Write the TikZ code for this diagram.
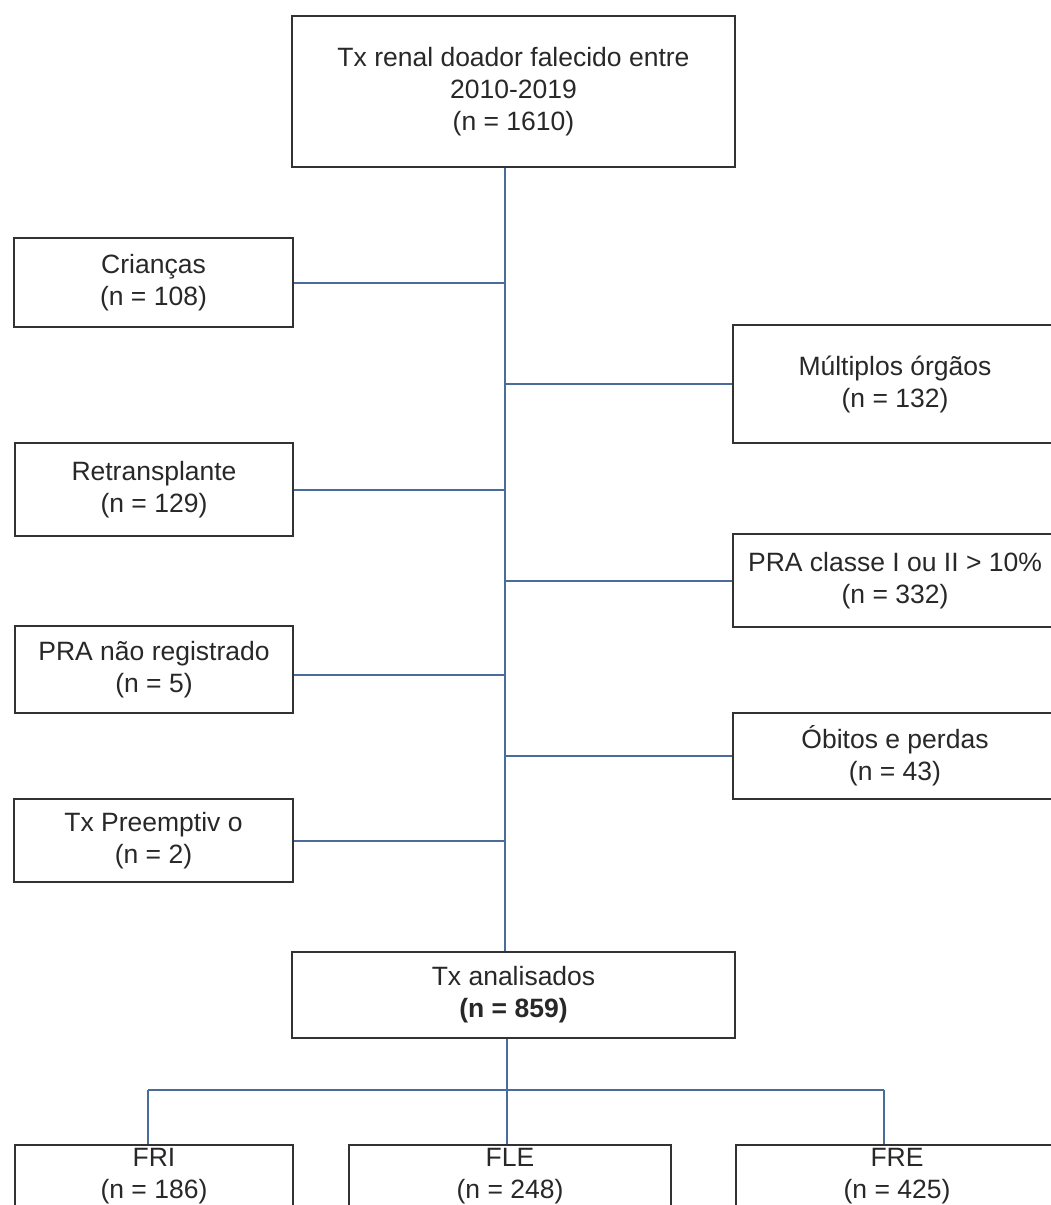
\documentclass[tikz,border=0pt]{standalone}
\usepackage{fontspec}
\setmainfont{Liberation Sans}
\definecolor{boxline}{RGB}{50,50,50}
\definecolor{connline}{RGB}{74,108,152}
\definecolor{txt}{RGB}{40,40,40}
\begin{document}
\begin{tikzpicture}[x=1pt,y=-1pt,
  flowbox/.style={draw=boxline, line width=2.2pt, fill=white, inner sep=0pt, align=center,
    text=txt, font=\fontsize{26.5}{32}\selectfont},
  lowbox/.style={flowbox, minimum height=70pt, text depth=14pt},
  conn/.style={draw=connline, line width=2pt}]
\useasboundingbox (0,0) rectangle (1051,1205);
\clip (0,0) rectangle (1051,1205);
\fill[white] (0,0) rectangle (1051,1205);

% boxes
\node[flowbox, minimum width=443pt, minimum height=151pt] (top) at (513.5,91.5)
  {Tx renal doador falecido entre\\2010-2019\\ (n = 1610)};
\node[flowbox, minimum width=279pt, minimum height=89pt] (crian) at (153.5,282.5)
  {Crianças\\(n = 108)};
\node[flowbox, minimum width=324pt, minimum height=118pt] (mult) at (895,384)
  {Múltiplos órgãos\\(n = 132)};
\node[flowbox, minimum width=278pt, minimum height=93pt] (retr) at (154,489.5)
  {Retransplante\\(n = 129)};
\node[flowbox, minimum width=324pt, minimum height=93pt] (pra) at (895,580.5)
  {PRA classe I ou II > 10\%\\(n = 332)};
\node[flowbox, minimum width=278pt, minimum height=87pt] (pranr) at (154,669.5)
  {PRA não registrado\\(n = 5)};
\node[flowbox, minimum width=324pt, minimum height=86pt] (obitos) at (895,756)
  {Óbitos e perdas\\(n = 43)};
\node[flowbox, minimum width=279pt, minimum height=83pt] (preempt) at (153.5,840.5)
  {Tx Preemptiv o\\(n = 2)};
\node[flowbox, minimum width=443pt, minimum height=86pt] (anal) at (513.5,995)
  {Tx analisados\\\textbf{(n = 859)}};
\node[lowbox, minimum width=278pt] (fri) at (154,1180)
  {FRI\\(n = 186)};
\node[lowbox, minimum width=322pt] (fle) at (510,1180)
  {FLE\\(n = 248)};
\node[lowbox, minimum width=322pt] (fre) at (897,1180)
  {FRE\\(n = 425)};

% spine
\coordinate (spine) at (505,0);
\draw[conn] (top.south -| spine) -- (anal.north -| spine);
\draw[conn] (crian.east) -- (crian.east -| spine);
\draw[conn] (retr.east) -- (retr.east -| spine);
\draw[conn] ([yshift=-5.5pt]pranr.east) -- ([yshift=-5.5pt]pranr.east -| spine);
\draw[conn] (preempt.east) -- (preempt.east -| spine);
\draw[conn] (mult.west) -- (mult.west -| spine);
\draw[conn] (pra.west) -- (pra.west -| spine);
\draw[conn] (obitos.west) -- (obitos.west -| spine);

% bottom split
\coordinate (hub) at (507,1090);
\coordinate (bl) at (148,1090);
\coordinate (br) at (884,1090);
\draw[conn] (anal.south -| hub) -- (hub);
\draw[conn] (bl) -- (br);
\draw[conn] (bl) -- (bl |- fri.north);
\draw[conn] (hub) -- (hub |- fle.north);
\draw[conn] (br) -- (br |- fre.north);
\end{tikzpicture}
\end{document}
